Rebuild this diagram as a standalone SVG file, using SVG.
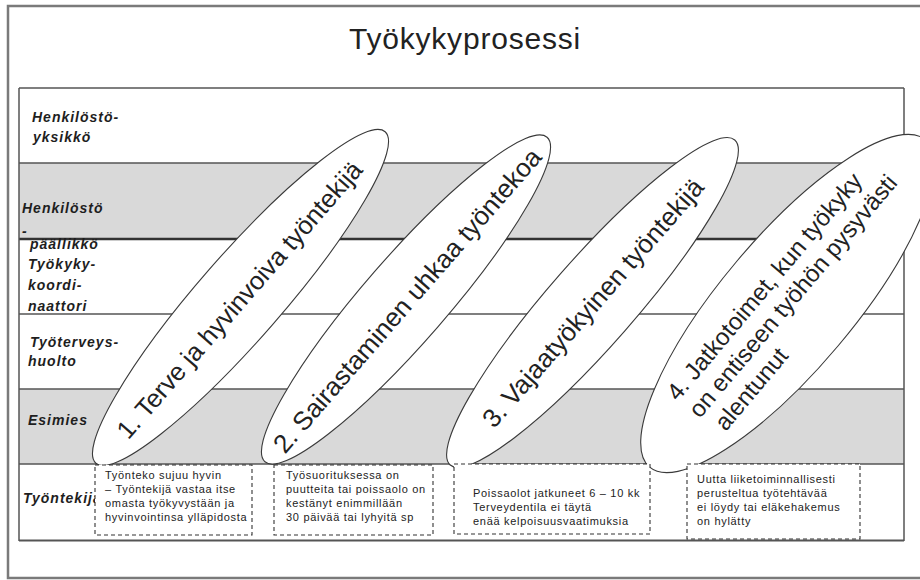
<svg xmlns="http://www.w3.org/2000/svg" width="920" height="580" viewBox="0 0 920 580">
  <style>
    .title { font-family: "Liberation Sans", Arial, sans-serif; font-size: 30px; fill: #222; letter-spacing: 0.8px; }
    .role { font-family: "Liberation Sans", Arial, sans-serif; font-size: 14px; font-weight: bold; font-style: italic; fill: #1e1e1e; letter-spacing: 1px; }
    .phase { fill: #ffffff; stroke: #3a3a3a; stroke-width: 1.1; }
    .phase-text { font-family: "Liberation Sans", Arial, sans-serif; font-size: 26px; fill: #222; }
    .phase-text4 { font-family: "Liberation Sans", Arial, sans-serif; font-size: 24px; fill: #222; }
    .note { fill: #ffffff; stroke: #333; stroke-width: 1.1; stroke-dasharray: 4 3; }
    .note-text { font-family: "Liberation Sans", Arial, sans-serif; font-size: 11px; fill: #222; letter-spacing: 0.7px; }
    .band { fill: #d9d9d9; }
    .rule { stroke: #555; stroke-width: 1.5; fill: none; }
  </style>

  <!-- outer frame (open on the right edge) -->
  <rect x="0" y="0" width="920" height="580" fill="#ffffff"/>
  <path d="M 921 6 L 8 6 L 8 578 L 921 578" fill="none" stroke="#7a7a7a" stroke-width="2.5"/>

  <text class="title" x="465" y="49" text-anchor="middle">Työkykyprosessi</text>

  <!-- swimlane table -->
  <g id="lanes">
    <rect x="19" y="88" width="885" height="453" fill="#ffffff"/>
    <rect class="band" x="19" y="163" width="885" height="76"/>
    <rect class="band" x="19" y="389" width="885" height="75"/>
    <line class="rule" x1="19" y1="88" x2="904" y2="88"/>
    <line class="rule" x1="19" y1="163" x2="904" y2="163"/>
    <line x1="19" y1="239" x2="904" y2="239" stroke="#333" stroke-width="2.5"/>
    <line class="rule" x1="19" y1="314" x2="904" y2="314"/>
    <line class="rule" x1="19" y1="389" x2="904" y2="389"/>
    <line class="rule" x1="19" y1="464" x2="904" y2="464"/>
    <line x1="19" y1="540.5" x2="904" y2="540.5" stroke="#555" stroke-width="2"/>
    <line class="rule" x1="19" y1="88" x2="19" y2="541"/>
    <line class="rule" x1="904" y1="88" x2="904" y2="541"/>
  </g>

  <g id="lane-labels">
    <text class="role" x="32" y="122">Henkilöstö-</text>
    <text class="role" x="33" y="142">yksikkö</text>
    <text class="role" x="22" y="213">Henkilöstö</text>
    <text class="role" x="22" y="236">-</text>
    <text class="role" x="30" y="249">päällikkö</text>
    <text class="role" x="28" y="269">Työkyky-</text>
    <text class="role" x="28" y="290">koordi-</text>
    <text class="role" x="28" y="311">naattori</text>
    <text class="role" x="30" y="347">Työterveys-</text>
    <text class="role" x="28" y="366">huolto</text>
    <text class="role" x="28" y="425">Esimies</text>
    <text class="role" x="23" y="503">Työntekijä</text>
  </g>

  <!-- phase ellipses -->
  <g id="phase-1" transform="rotate(-48.9 240.5 297.5)">
    <ellipse class="phase" cx="240.5" cy="297.5" rx="220" ry="42"/>
    <text class="phase-text" x="238" y="307" text-anchor="middle" style="font-size:25.5px">1. Terve ja hyvinvoiva työntekijä</text>
  </g>
  <g id="phase-2" transform="rotate(-49 406 299.5)">
    <ellipse class="phase" cx="406" cy="299.5" rx="215" ry="42"/>
    <text class="phase-text" x="406" y="310" text-anchor="middle">2. Sairastaminen uhkaa työntekoa</text>
  </g>
  <g id="phase-3" transform="rotate(-48.8 592.5 302.5)">
    <ellipse class="phase" cx="592.5" cy="302.5" rx="216" ry="43"/>
    <text class="phase-text" x="592.5" y="312" text-anchor="middle">3. Vajaatyökyinen työntekijä</text>
  </g>
  <g id="phase-4" transform="rotate(-49.9 787.5 303.5)">
    <ellipse class="phase" cx="787.5" cy="303.5" rx="214" ry="66"/>
    <text class="phase-text4" x="641.5" y="283">4. Jatkotoimet, kun työkyky</text>
    <text class="phase-text4" x="642.5" y="311">on entiseen työhön pysyvästi</text>
    <text class="phase-text4" x="649.5" y="339">alentunut</text>
  </g>

  <!-- employee situation notes -->
  <g id="note-1">
    <rect class="note" x="95" y="465" width="157" height="70"/>
    <text class="note-text" x="105" y="479">Työnteko sujuu hyvin</text>
    <text class="note-text" x="105" y="493">– Työntekijä vastaa itse</text>
    <text class="note-text" x="105" y="507">omasta työkyvystään ja</text>
    <text class="note-text" x="105" y="521">hyvinvointinsa ylläpidosta</text>
  </g>
  <g id="note-2">
    <rect class="note" x="274" y="465" width="159" height="70"/>
    <text class="note-text" x="286" y="479">Työsuorituksessa on</text>
    <text class="note-text" x="286" y="493">puutteita tai poissaolo on</text>
    <text class="note-text" x="286" y="507">kestänyt enimmillään</text>
    <text class="note-text" x="286" y="521">30 päivää tai lyhyitä sp</text>
  </g>
  <g id="note-3">
    <rect class="note" x="454" y="464" width="196" height="70"/>
    <text class="note-text" x="473" y="497">Poissaolot jatkuneet 6 – 10 kk</text>
    <text class="note-text" x="473" y="511">Terveydentila ei täytä</text>
    <text class="note-text" x="473" y="525">enää kelpoisuusvaatimuksia</text>
  </g>
  <g id="note-4">
    <rect class="note" x="687" y="464" width="173" height="75"/>
    <text class="note-text" x="697" y="483">Uutta liiketoiminnallisesti</text>
    <text class="note-text" x="697" y="497">perusteltua työtehtävää</text>
    <text class="note-text" x="697" y="511">ei löydy tai eläkehakemus</text>
    <text class="note-text" x="697" y="525">on hylätty</text>
  </g>
</svg>
